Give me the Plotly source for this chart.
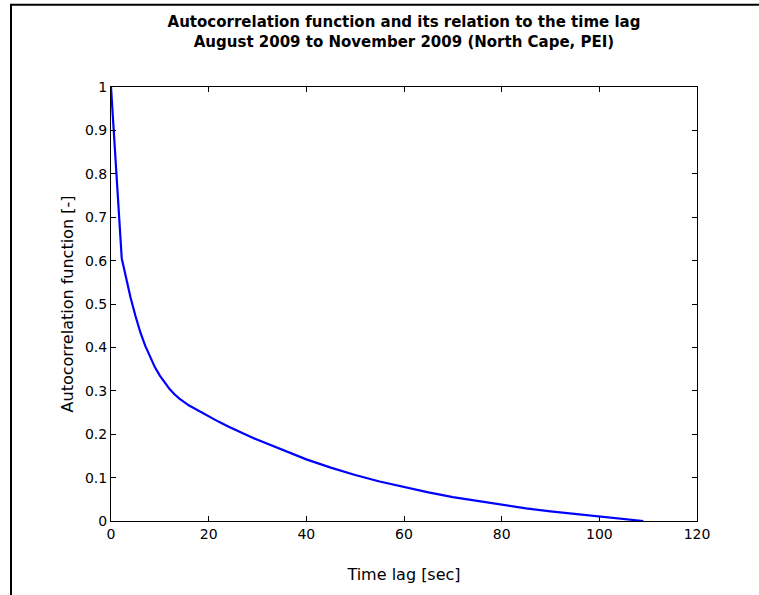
import plotly.graph_objects as go

# Data
lag_sec = [0, 0.5, 1.0, 1.5, 2.2, 3.0, 4.0, 5.0, 6.0, 7.0, 8.0, 9.0, 10.0, 11.0, 12.0,
           13.0, 14.0, 16.0, 18.0, 20.0, 22.0, 24.0, 26.0, 28.0, 30.0, 35, 40, 45, 50,
           55, 60, 65, 70, 75, 80, 85, 90, 95, 100, 105, 109]
acf = [1.0, 0.91, 0.815, 0.72, 0.605, 0.565, 0.515, 0.473, 0.435, 0.404, 0.377, 0.354,
       0.335, 0.318, 0.304, 0.292, 0.282, 0.266, 0.253, 0.241, 0.229, 0.218, 0.207,
       0.197, 0.187, 0.164, 0.142, 0.123, 0.106, 0.091, 0.078, 0.066, 0.055, 0.046,
       0.037, 0.029, 0.022, 0.016, 0.010, 0.005, 0.0]

x_ticks = [0, 20, 40, 60, 80, 100, 120]
y_ticks = [0, 0.1, 0.2, 0.3, 0.4, 0.5, 0.6, 0.7, 0.8, 0.9, 1]
y_tick_labels = ["0", "0.1", "0.2", "0.3", "0.4", "0.5", "0.6", "0.7", "0.8", "0.9", "1"]

FONT = "DejaVu Sans"

fig = go.Figure()
fig.add_trace(go.Scatter(x=lag_sec, y=acf, mode="lines",
                         line=dict(color="#0000FF", width=2.2),
                         showlegend=False, hoverinfo="skip"))

W, H = 759, 595
L, R, T, B = 111, 62, 87, 74
pw, ph = W - L - R, H - T - B

def px_x(p):
    return (p - L) / pw

def px_y(p):
    return (H - B - p) / ph

fig.update_layout(
    width=W, height=H,
    margin=dict(l=L, r=R, t=T, b=B),
    paper_bgcolor="white", plot_bgcolor="white",
    font=dict(family=FONT, size=14, color="black"),
    title=dict(
        text="<b>Autocorrelation function and its relation to the time lag<br>"
             "August 2009 to November 2009 (North Cape, PEI)</b>",
        x=px_x(404), xref="paper", xanchor="center",
        y=1 - 27 / H, yref="container", yanchor="middle",
        font=dict(family=FONT, size=15, color="black"),
    ),
    xaxis=dict(
        range=[0, 120], tickvals=x_ticks, ticktext=[str(v) for v in x_ticks],
        ticks="inside", ticklen=5, tickcolor="black", tickwidth=1,
        showline=True, linecolor="black", linewidth=1, mirror="ticks",
        showgrid=False, zeroline=False,
        tickfont=dict(family=FONT, size=14),
        title=dict(text="Time lag [sec]", standoff=28, font=dict(family=FONT, size=16)),
    ),
    yaxis=dict(
        range=[0, 1], tickvals=y_ticks, ticktext=y_tick_labels,
        ticks="inside", ticklen=5, tickcolor="black", tickwidth=1,
        showline=True, linecolor="black", linewidth=1, mirror="ticks",
        showgrid=False, zeroline=False,
        tickfont=dict(family=FONT, size=14),
        title=dict(text="Autocorrelation function [-]", standoff=7, font=dict(family=FONT, size=16)),
    ),
    shapes=[
        dict(type="line", xref="paper", yref="paper",
             x0=px_x(11), x1=px_x(11), y0=px_y(4.7), y1=px_y(600),
             line=dict(color="black", width=2)),
        dict(type="line", xref="paper", yref="paper",
             x0=px_x(10), x1=px_x(765), y0=px_y(4.7), y1=px_y(4.7),
             line=dict(color="black", width=2)),
    ],
)

fig.write_html("out.html")
